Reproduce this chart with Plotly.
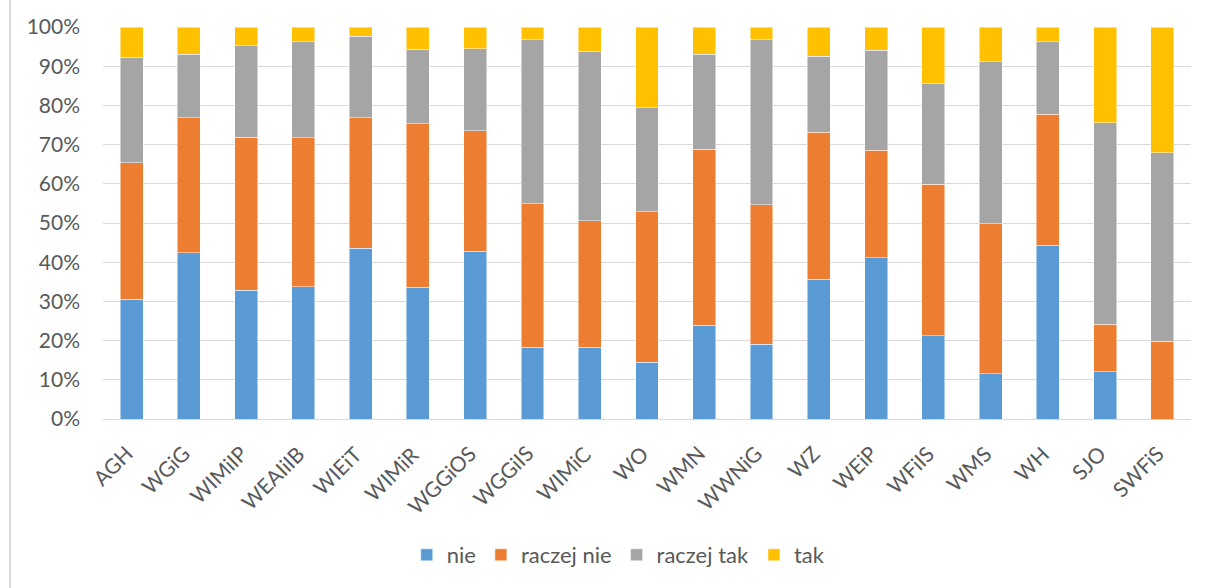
import plotly.graph_objects as go

categories = ["AGH", "WGiG", "WIMiIP", "WEAIiIB", "WIEiT", "WIMiR", "WGGiOS", "WGGiIS",
              "WIMiC", "WO", "WMN", "WWNiG", "WZ", "WEiP", "WFiIS", "WMS", "WH", "SJO", "SWFiS"]

nie = [30.6, 42.4, 32.8, 33.8, 43.5, 33.6, 42.8, 18.3, 18.3, 14.5, 23.9, 19.1, 35.7, 41.1, 21.3, 11.6, 44.3, 12.0, 0.0]
raczej_nie = [34.8, 34.5, 39.1, 38.0, 33.4, 41.7, 30.7, 36.6, 32.3, 38.4, 44.9, 35.6, 37.4, 27.4, 38.6, 38.2, 33.4, 12.2, 19.8]
raczej_tak = [26.9, 16.2, 23.3, 24.4, 20.8, 19.0, 21.0, 41.8, 43.2, 26.5, 24.3, 42.0, 19.4, 25.6, 25.8, 41.3, 18.6, 51.4, 48.1]
tak = [7.7, 6.9, 4.8, 3.8, 2.3, 5.7, 5.5, 3.3, 6.2, 20.6, 6.9, 3.3, 7.5, 5.9, 14.3, 8.9, 3.7, 24.4, 32.1]

series = [("nie", nie, "#5B9BD5"), ("raczej nie", raczej_nie, "#ED7D31"),
          ("raczej tak", raczej_tak, "#A5A5A5"), ("tak", tak, "#FFC000")]

FONT = "Lato"
TXT = "#595959"

fig = go.Figure()
for name, vals, col in series:
    fig.add_trace(go.Bar(x=categories, y=vals, name=name,
                         marker=dict(color=col, line=dict(color="rgba(255,255,255,0.6)", width=0.8))))

fig.update_layout(
    barmode="stack", barnorm="percent", bargap=0.6,
    width=1208, height=588,
    margin=dict(l=103, r=17, t=27, b=169, autoexpand=False),
    paper_bgcolor="white", plot_bgcolor="white",
    font=dict(family=FONT, size=21, color=TXT),
    legend=dict(orientation="h", x=0.474, xanchor="center", y=-0.347, yanchor="middle",
                font=dict(family=FONT, size=22, color=TXT), traceorder="normal",
                itemwidth=30),
    showlegend=True,
)
fig.update_yaxes(range=[0, 100], dtick=10, ticksuffix="%", showgrid=True,
                 gridcolor="#D9D9D9", gridwidth=1.3, zeroline=False, ticks="",
                 automargin=False,
                 ticklabelstandoff=22, tickfont=dict(family=FONT, size=21, color=TXT))
fig.update_xaxes(range=[-0.5, len(categories) - 0.5], autorange=False,
                 showline=True, linecolor="#D9D9D9", linewidth=1.3,
                 ticks="", showticklabels=False, automargin=False)

for c in categories:
    fig.add_annotation(x=c, y=0, xref="x", yref="y", text=c, showarrow=False,
                       textangle=-45, xanchor="right", yanchor="top",
                       xshift=8, yshift=-19,
                       font=dict(family=FONT, size=21, color=TXT))

fig.add_shape(type="line", xref="paper", yref="paper", x0=-0.0855, x1=-0.0855,
              y0=-0.5, y1=1.1, line=dict(color="#D9D9D9", width=2), layer="below")

fig.write_html("out.html", config={"displayModeBar": False},
               post_script="document.body.style.margin='0';document.body.style.overflow='hidden';")
